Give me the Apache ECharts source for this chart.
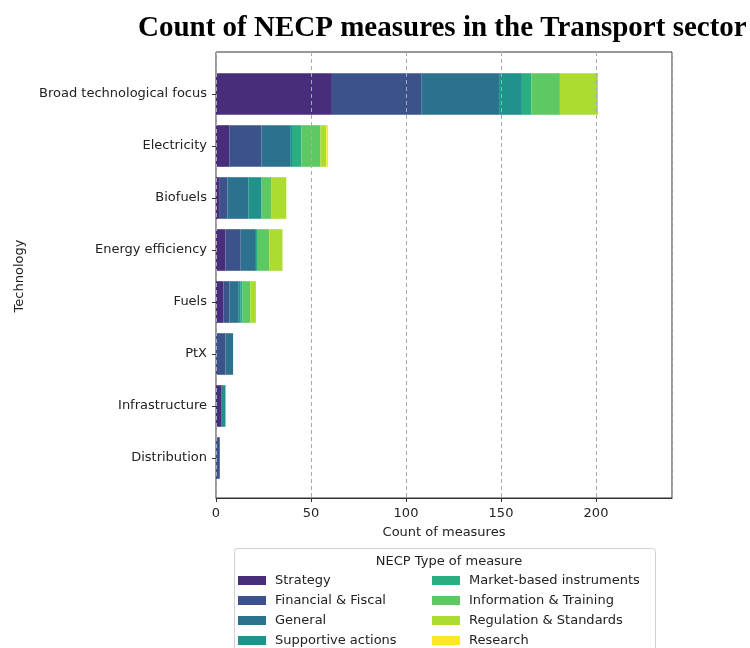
<!DOCTYPE html>
<html>
<head>
<meta charset="utf-8">
<script src="https://cdn.jsdelivr.net/npm/echarts@6/dist/echarts.min.js"></script>
<style>
  html, body { margin: 0; padding: 0; background: #fff; }
  #chart { width: 750px; height: 648px; }
</style>
</head>
<body>
<div id="chart"></div>
<script>
// Technologies, top to bottom
const categories = ['Broad technological focus', 'Electricity', 'Biofuels', 'Energy efficiency',
  'Fuels', 'PtX', 'Infrastructure', 'Distribution'];

// Counts per type of measure, aligned with categories
const strategy    = [61, 7, 2, 5, 4, 0, 3, 0];
const financial   = [47, 17, 4, 8, 3, 5, 0, 2];
const general     = [41, 15, 11, 8, 5, 4, 0, 0];
const supportive  = [12, 1, 7, 0, 1, 0, 2, 0];
const market      = [5, 5, 0, 1, 1, 0, 0, 0];
const information = [15, 10, 5, 6, 4, 0, 0, 0];
const regulation  = [20, 3, 8, 7, 3, 0, 0, 0];
const research    = [0, 1, 0, 0, 0, 0, 0, 0];

const measureTypes = ['Strategy', 'Financial & Fiscal', 'General', 'Supportive actions',
  'Market-based instruments', 'Information & Training', 'Regulation & Standards', 'Research'];
const measureValues = [strategy, financial, general, supportive, market, information, regulation, research];
const measureColors = ['#472d7b', '#3b528b', '#2c728e', '#21918c', '#28ae80', '#5ec962', '#addc30', '#fde725'];

const xMax = 240;
const xInterval = 50;

const font = 'DejaVu Sans';
const textColor = '#222';

const chart = echarts.init(document.getElementById('chart'), null, { renderer: 'canvas' });

const series = measureTypes.map((name, i) => ({
  name: name,
  type: 'bar',
  stack: 'total',
  xAxisIndex: 1,
  yAxisIndex: 1,
  barCategoryGap: '20%',
  itemStyle: { color: measureColors[i] },
  emphasis: { disabled: true },
  data: measureValues[i]
}));

const legendCommon = {
  orient: 'vertical',
  height: 120,
  itemWidth: 28,
  itemHeight: 9,
  itemGap: 5,
  icon: 'rect',
  selectedMode: false,
  textStyle: { fontFamily: font, fontSize: 13, lineHeight: 15, color: textColor, padding: [0, 0, 0, 4] },
  padding: 0
};

chart.setOption({
  animation: false,
  backgroundColor: '#fff',
  title: [
    {
      text: 'Count of NECP measures in the Transport sector',
      left: 133,
      top: 9,
      textStyle: { fontFamily: 'Liberation Serif', fontWeight: 'bold', fontSize: 29, color: '#000' }
    },
    {
      text: 'NECP Type of measure',
      left: 444,
      top: 550,
      textAlign: 'center',
      textStyle: { fontFamily: font, fontWeight: 'normal', fontSize: 13, color: textColor }
    }
  ],
  graphic: [
    {
      type: 'rect',
      shape: { x: 234.5, y: 548.5, width: 421, height: 120, r: 3 },
      style: { fill: '#fff', stroke: '#d0d0d0', lineWidth: 1 },
      z: -1
    }
  ],
  legend: [
    Object.assign({ left: 238, top: 573, data: measureTypes.slice(0, 4) }, legendCommon),
    Object.assign({ left: 432, top: 573, data: measureTypes.slice(4) }, legendCommon)
  ],
  grid: [
    // frame with the value scale
    { left: 216, right: 78, top: 52, bottom: 150, show: true, borderColor: '#333', borderWidth: 1, backgroundColor: 'transparent' },
    // bars
    { left: 216, right: 78, top: 68, height: 416 }
  ],
  xAxis: [
    {
      type: 'value',
      gridIndex: 0,
      min: 0,
      max: xMax,
      interval: xInterval,
      z: 10,
      name: 'Count of measures',
      nameLocation: 'middle',
      nameGap: 28,
      nameTextStyle: { fontFamily: font, fontSize: 13, color: textColor },
      axisLine: { show: true, lineStyle: { color: '#333', width: 1 } },
      axisTick: { show: true, length: 4, lineStyle: { color: '#333' } },
      axisLabel: { fontFamily: font, fontSize: 13, color: textColor, margin: 9, showMaxLabel: false },
      splitLine: { show: true, lineStyle: { color: '#aaa', type: [4, 3], width: 1 } }
    },
    {
      type: 'value',
      gridIndex: 1,
      min: 0,
      max: xMax,
      show: false
    }
  ],
  yAxis: [
    {
      type: 'value',
      gridIndex: 0,
      show: false
    },
    {
      type: 'category',
      gridIndex: 1,
      data: categories,
      inverse: true,
      name: 'Technology',
      nameLocation: 'middle',
      nameRotate: 90,
      nameGap: 190,
      nameTextStyle: { fontFamily: font, fontSize: 13, color: textColor },
      axisLine: { show: false },
      axisTick: { show: true, alignWithLabel: true, length: 4, lineStyle: { color: '#333' } },
      axisLabel: { fontFamily: font, fontSize: 13, color: textColor, margin: 9, padding: [3, 0, 0, 0] },
      splitLine: { show: false }
    }
  ],
  series: series
});
</script>
</body>
</html>
